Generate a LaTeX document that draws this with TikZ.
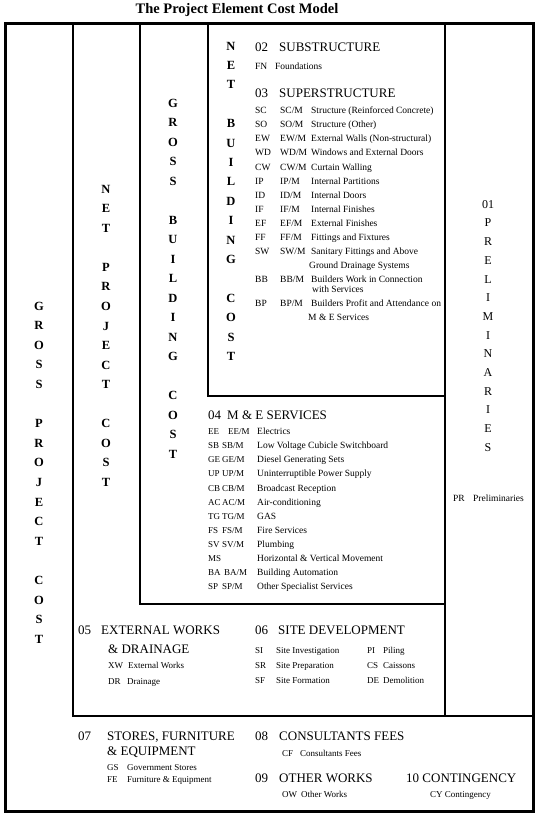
\documentclass[tikz,border=0pt]{standalone}
\usepackage{fontspec}
\setmainfont{Liberation Serif}
\usepackage{tikz}

\begin{document}
\begin{tikzpicture}[x=1pt,y=-1pt,
  ttl/.style={font=\bfseries\fontsize{14.5}{16}\selectfont, inner sep=0pt, text height=9.6pt, text depth=0pt},
  vl/.style={font=\bfseries\fontsize{12.5}{14}\selectfont, inner sep=0pt, text height=8.3pt, text depth=0pt},
  pl/.style={font=\fontsize{12}{14}\selectfont, inner sep=0pt, text height=7.9pt, text depth=0pt},
  hd/.style={font=\fontsize{13}{15}\selectfont, anchor=west, inner sep=0pt, text height=8.6pt, text depth=0pt},
  it/.style={font=\fontsize{9.5}{11}\selectfont, anchor=west, inner sep=0pt, text height=6.3pt, text depth=0pt},
  itc/.style={it, font=\fontsize{9}{11}\selectfont},
  itb/.style={font=\fontsize{9}{11}\selectfont, anchor=west, inner sep=0pt, text height=6pt, text depth=0pt},
  frame/.style={line width=3pt},
  wall/.style={line width=1.8pt}]
\begin{scope}

\useasboundingbox (0,0) rectangle (538,816);

\node[ttl] (title) at (237,9) {The Project Element Cost Model};

\draw[frame] (5,24) rectangle (533,811);
\draw[wall] (73,24) -- (73,716) -- (533,716);
\draw[wall] (140,24) -- (140,604) -- (445,604);
\draw[wall] (208,24) -- (208,396) -- (445,396);
\draw[wall] (445,24) -- (445,716);

\foreach \c/\n in {G/0,R/1,O/2,S/3,S/4,P/6,R/7,O/8,J/9,E/10,C/11,T/12,C/14,O/15,S/16,T/17}
  \node[vl] (gpc-\n) at (39,{306+19.6*\n}) {\c};
\foreach \c/\n in {N/0,E/1,T/2,P/4,R/5,O/6,J/7,E/8,C/9,T/10,C/12,O/13,S/14,T/15}
  \node[vl] (npc-\n) at (106,{189+19.55*\n}) {\c};
\foreach \c/\n in {G/0,R/1,O/2,S/3,S/4,B/6,U/7,I/8,L/9,D/10,I/11,N/12,G/13,C/15,O/16,S/17,T/18}
  \node[vl] (gbc-\n) at (173,{103+19.5*\n}) {\c};
\foreach \c/\n in {N/0,E/1,T/2,B/4,U/5,I/6,L/7,D/8,I/9,N/10,G/11,C/13,O/14,S/15,T/16}
  \node[vl] (nbc-\n) at (231,{46+19.4*\n}) {\c};
\foreach \c/\n in {01/0,P/1,R/2,E/3,L/4,I/5,M/6,I/7,N/8,A/9,R/10,I/11,E/12,S/13}
  \node[pl] (pre-\n) at (488,{204.3+18.7*\n}) {\c};

\node[it] (c-PR) at (453,498) {PR};
\node[it] (d-PR) at (473,498) {Preliminaries};

\node[hd] (h02) at (255,47) {02\hspace{11pt}SUBSTRUCTURE};
\node[it] (c-FN) at (255,66) {FN};
\node[it] (d-FN) at (275,66) {Foundations};

\node[hd] (h03) at (255,93) {03\hspace{11pt}SUPERSTRUCTURE};
\foreach \a/\y/\d in {SC/110/{Structure (Reinforced Concrete)}, SO/124/{Structure (Other)},
    EW/138/{External Walls (Non-structural)}, WD/152.5/{Windows and External Doors},
    CW/167/{Curtain Walling}, IP/181/{Internal Partitions}, ID/195/{Internal Doors},
    IF/209/{Internal Finishes}, EF/223/{External Finishes}, FF/237/{Fittings and Fixtures},
    SW/251/{Sanitary Fittings and Above}, BB/279/{Builders Work in Connection},
    BP/303/{Builders Profit and Attendance on}}{
  \node[it] (c-\a) at (255,\y) {\a};
  \node[it] (m-\a) at (280,\y) {\a/M};
  \node[it] (d-\a) at (311,\y) {\d};
}
\node[it] (d-SW2) at (309,265) {Ground Drainage Systems};
\node[it] (d-BB2) at (312,289) {with Services};
\node[it] (d-BP2) at (308,317) {M \& E Services};

\node[hd] (h04) at (208,415) {04\hspace{6pt}M \& E SERVICES};
\foreach \a/\y/\x/\d in {EE/431/228/Electrics, SB/445/222/{Low Voltage Cubicle Switchboard},
    GE/459/222/{Diesel Generating Sets}, UP/473/222/{Uninterruptible Power Supply},
    CB/488/222/{Broadcast Reception}, AC/502/222/Air-conditioning, TG/516/222/GAS,
    FS/530/222/{Fire Services}, SV/544/222/Plumbing, BA/572/224/{Building Automation},
    SP/586/222/{Other Specialist Services}}{
  \node[itc] (c-\a) at (208,\y) {\a};
  \node[itc] (m-\a) at (\x,\y) {\a/M};
  \node[it] (d-\a) at (257,\y) {\d};
}
\node[itc] (c-MS) at (208,558) {MS};
\node[it] (d-MS) at (257,558) {Horizontal \& Vertical Movement};

\node[hd] (h05) at (78,630) {05\hspace{10pt}EXTERNAL WORKS};
\node[hd] (h05b) at (108,649) {\& DRAINAGE};
\node[itb] (c-XW) at (108,665) {XW};
\node[itb] (d-XW) at (128,665) {External Works};
\node[itb] (c-DR) at (108,681) {DR};
\node[itb] (d-DR) at (127,681) {Drainage};

\node[hd] (h06) at (255,630) {06\hspace{10pt}SITE DEVELOPMENT};
\foreach \a/\y/\d/\b/\e in {SI/650/{Site Investigation}/PI/Piling,
    SR/665/{Site Preparation}/CS/Caissons, SF/680/{Site Formation}/DE/Demolition}{
  \node[itb] (c-\a) at (255,\y) {\a};
  \node[itb] (d-\a) at (276,\y) {\d};
  \node[itb] (c-\b) at (367,\y) {\b};
  \node[itb] (d-\b) at (383,\y) {\e};
}

\node[hd] (h07) at (78,736) {07\hspace{16pt}STORES, FURNITURE};
\node[hd] (h07b) at (107,751) {\& EQUIPMENT};
\node[itb] (c-GS) at (107,767) {GS};
\node[itb] (d-GS) at (127,767) {Government Stores};
\node[itb] (c-FE) at (107,779) {FE};
\node[itb] (d-FE) at (127,779) {Furniture \& Equipment};

\node[hd] (h08) at (255,736) {08\hspace{11pt}CONSULTANTS FEES};
\node[itb] (c-CF) at (282,753) {CF};
\node[itb] (d-CF) at (300,753) {Consultants Fees};

\node[hd] (h09) at (255,778) {09\hspace{11pt}OTHER WORKS};
\node[itb] (c-OW) at (282,794) {OW};
\node[itb] (d-OW) at (301,794) {Other Works};

\node[hd] (h10) at (406,778) {10 CONTINGENCY};
\node[itb] (c-CY) at (430,794) {CY Contingency};

\end{scope}
\end{tikzpicture}
\end{document}
